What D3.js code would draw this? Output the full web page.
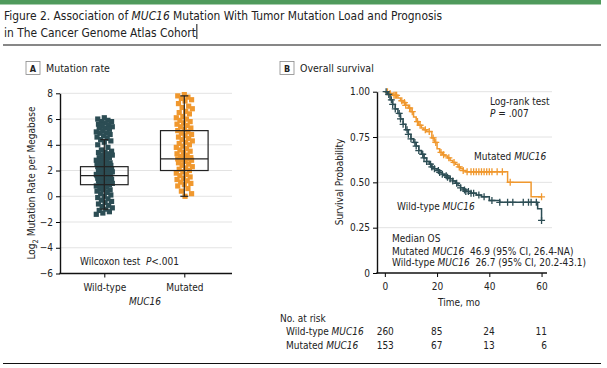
<!DOCTYPE html>
<html><head><meta charset="utf-8">
<script src="https://cdn.jsdelivr.net/npm/d3@7"></script>
<style>
body{margin:0;background:#fff;}
svg text{font-family:"DejaVu Sans Condensed","Liberation Sans Narrow","Roboto Condensed",Lato,sans-serif;fill:#222;white-space:pre;}
</style></head><body>
<svg id="c" width="607" height="368"></svg>
<script>
// ---------- data ----------
const groups = ["Wild-type", "Mutated"];
const wtValues = [6.1,6.0,5.9,5.8,5.8,5.7,5.6,5.5,5.5,5.4,5.3,5.3,5.2,5.1,5.0,4.9,4.9,4.8,4.7,4.6,4.5,4.4,4.3,4.2,4.0,3.8,3.6,3.5,3.4,3.4,3.3,3.2,3.2,3.1,3.0,3.0,2.9,2.8,2.8,2.7,2.6,2.6,2.5,2.5,2.4,2.4,2.3,2.3,2.2,2.2,2.1,2.1,2.0,2.0,2.0,1.9,1.9,1.8,1.8,1.8,1.7,1.7,1.7,1.6,1.6,1.6,1.5,1.5,1.5,1.4,1.4,1.3,1.3,1.3,1.2,1.2,1.1,1.1,1.0,1.0,0.9,0.9,0.8,0.8,0.7,0.6,0.5,0.5,0.4,0.3,0.2,0.1,0.0,-0.1,-0.2,-0.3,-0.4,-0.5,-0.6,-0.7,-0.8,-0.9,-1.0,-1.1,-1.2,-1.3,-1.4];
const mutValues = [7.9,7.8,7.7,7.6,7.5,7.4,7.2,7.0,6.9,6.8,6.6,6.5,6.4,6.2,6.1,6.0,5.9,5.8,5.7,5.6,5.5,5.4,5.3,5.2,5.1,5.0,4.9,4.8,4.7,4.6,4.5,4.4,4.3,4.2,4.1,4.0,3.9,3.8,3.7,3.6,3.5,3.4,3.3,3.2,3.1,3.0,3.0,2.9,2.9,2.8,2.8,2.7,2.6,2.5,2.4,2.3,2.2,2.1,2.0,1.9,1.8,1.7,1.6,1.5,1.4,1.3,1.2,1.1,1.0,0.9,0.8,0.6,0.4,0.2,0.0];
// [min, q1, median, q3, max]
const wtBox = [-1.0, 0.9, 1.6, 2.3, 4.4];
const mutBox = [0.0, 2.0, 2.9, 5.1, 7.8];
const yTicksA = [-6,-4,-2,0,2,4,6,8];

// Kaplan-Meier steps: [time, survival]
const kmWild = [[0,1.0],[1,0.985],[2,0.955],[3,0.93],[4,0.905],[5,0.88],[6,0.85],[7,0.82],[8,0.79],[9,0.765],[10,0.74],[11,0.72],[12,0.70],[13,0.675],[14,0.655],[15,0.635],[16,0.615],[17,0.60],[18,0.585],[19,0.575],[20,0.565],[21,0.555],[22,0.545],[23,0.537],[24,0.528],[25,0.52],[26,0.508],[27,0.495],[28,0.482],[29,0.47],[30,0.458],[31,0.45],[33,0.44],[35,0.43],[37,0.42],[40,0.40],[44,0.39],[58.5,0.355],[60,0.29]];
const kmMut = [[0,1.0],[2,0.99],[3,0.98],[5,0.965],[6,0.95],[7,0.94],[8,0.925],[9,0.91],[10,0.89],[11,0.86],[12,0.835],[13,0.815],[14,0.80],[15,0.79],[16,0.78],[18,0.745],[19,0.72],[20,0.685],[21,0.665],[22,0.652],[23,0.645],[24,0.635],[25,0.62],[26,0.61],[27,0.60],[28,0.585],[29,0.575],[30,0.565],[31,0.558],[47,0.50],[56,0.42],[60,0.42]];
const wildCensor = [0.5,1.5,2.5,3,4,5.5,6,7,8.5,9,10,11.5,12,13,14.5,15,16,17.5,18,19,20.5,21,22,23.5,24,25,26,27.5,29,30.5,31,32,33,34,36,38,41,44,47,49,53,55,56,58,60];
const mutCensor = [1,2,3.5,4,4.5,6.5,7.5,8,9.5,10.5,12.5,13.5,15.5,17,18.5,19.5,21.5,22.5,24.5,26.5,28.5,30,31.5,33,34,35,36,37,38,39,40,41,43,45,48,60];
const yTicksB = [0,0.25,0.5,0.75,1.0];
const xTicksB = [0,20,40,60];
const riskWild = [260,85,24,11];
const riskMut = [153,67,13,6];

const DARK = "#2c4d54", ORANGE = "#f0982e", GRID = "#e3e3e3";
const FS = 10;
const svg = d3.select("#c");

// ---------- header ----------
svg.append("rect").attr("x",0).attr("y",0).attr("width",601).attr("height",4.5).attr("fill","#4f9a5c");
const t1 = svg.append("text").attr("x",4).attr("y",20).attr("font-size",11.9);
t1.append("tspan").text("Figure 2. Association of ");
t1.append("tspan").attr("font-style","italic").text("MUC16");
t1.append("tspan").text(" Mutation With Tumor Mutation Load and Prognosis");
const t2 = svg.append("text").attr("x",4).attr("y",36.5).attr("font-size",11.9).text("in The Cancer Genome Atlas Cohort");
const cx2 = 4 + t2.node().getComputedTextLength() + 1;
svg.append("line").attr("x1",cx2).attr("x2",cx2).attr("y1",24).attr("y2",39).attr("stroke","#111").attr("stroke-width",1);
svg.append("line").attr("x1",3).attr("x2",601).attr("y1",45).attr("y2",45).attr("stroke","#111").attr("stroke-width",1.2);
svg.append("line").attr("x1",3).attr("x2",601).attr("y1",363.5).attr("y2",363.5).attr("stroke","#111").attr("stroke-width",1.2);

function panelLabel(x, letter, title){
  svg.append("rect").attr("x",x).attr("y",61.5).attr("width",14).attr("height",13).attr("fill","none").attr("stroke","#888").attr("stroke-width",0.8);
  svg.append("text").attr("x",x+7).attr("y",71.5).attr("text-anchor","middle").attr("font-size",9).attr("font-weight","bold").text(letter);
  svg.append("text").attr("x",x+20).attr("y",72).attr("font-size",10.5).text(title);
}
panelLabel(26,"A","Mutation rate");
panelLabel(280,"B","Overall survival");

// ---------- Panel A ----------
const yA = d3.scaleLinear().domain([-6,8]).range([273.5,93.3]);
const xA = d3.scalePoint().domain(groups).range([104.3,184.3]);
const gA = svg.append("g");
gA.selectAll("line.grid").data(yTicksA.filter(d=>d>-6)).join("line")
  .attr("x1",60).attr("x2",232).attr("y1",d=>yA(d)).attr("y2",d=>yA(d)).attr("stroke",GRID).attr("stroke-width",1);

function jitter(i, half){ const h = ((i*37 + 11) % 23) / 22; return (h - 0.5) * 2 * half; }
const ptsA = [];
wtValues.forEach((v,i)=>ptsA.push({g:"Wild-type",v,i}));
mutValues.forEach((v,i)=>ptsA.push({g:"Mutated",v,i}));
gA.selectAll("rect.pt").data(ptsA).join("rect")
  .attr("x",d=>xA(d.g)+jitter(d.i,8)-2.6).attr("y",d=>yA(d.v)-2.6)
  .attr("width",5.2).attr("height",5.2)
  .attr("fill",d=>d.g==="Wild-type"?DARK:ORANGE);

const boxes = [{g:"Wild-type",s:wtBox},{g:"Mutated",s:mutBox}];
boxes.forEach(b=>{
  const cx = xA(b.g), s = b.s;
  gA.append("line").attr("x1",cx).attr("x2",cx).attr("y1",yA(s[0])).attr("y2",yA(s[4])).attr("stroke","#222").attr("stroke-width",1.2);
  [s[0],s[4]].forEach(v=>gA.append("line").attr("x1",cx-4).attr("x2",cx+4).attr("y1",yA(v)).attr("y2",yA(v)).attr("stroke","#222").attr("stroke-width",1.2));
  gA.append("rect").attr("x",cx-23.8).attr("width",47.6).attr("y",yA(s[3])).attr("height",yA(s[1])-yA(s[3]))
    .attr("fill","none").attr("stroke","#222").attr("stroke-width",1.2);
  gA.append("line").attr("x1",cx-23.8).attr("x2",cx+23.8).attr("y1",yA(s[2])).attr("y2",yA(s[2])).attr("stroke","#222").attr("stroke-width",1.2);
});

const axA = gA.append("g").attr("transform","translate(60,0)")
  .call(d3.axisLeft(yA).tickValues(yTicksA).tickSize(4).tickSizeOuter(0));
axA.select(".domain").attr("stroke","#111").attr("stroke-width",1.4);
axA.selectAll("text").attr("font-size",FS).attr("fill","#333");
const axAx = gA.append("g").attr("transform","translate(0,273.5)")
  .call(d3.axisBottom(xA).tickSize(4).tickSizeOuter(0));
axAx.select(".domain").remove();
gA.append("line").attr("x1",59.3).attr("x2",232).attr("y1",273.5).attr("y2",273.5).attr("stroke","#111").attr("stroke-width",1.4);
axAx.selectAll("text").attr("font-size",FS).attr("fill","#333").attr("dy","1em");
gA.append("text").attr("x",145).attr("y",305).attr("text-anchor","middle").attr("font-size",FS).attr("font-style","italic").text("MUC16");
const ylA = gA.append("text").attr("transform","translate(35,183) rotate(-90)").attr("text-anchor","middle").attr("font-size",FS);
ylA.append("tspan").text("Log");
ylA.append("tspan").attr("font-size",7.5).attr("dy",3).text("2");
ylA.append("tspan").attr("dy",-3).text(" Mutation Rate per Megabase");
const wil = gA.append("text").attr("x",80).attr("y",264.5).attr("font-size",FS);
wil.append("tspan").text("Wilcoxon test  ");
wil.append("tspan").attr("font-style","italic").text("P");
wil.append("tspan").text("<.001");

// ---------- Panel B ----------
const xB = d3.scaleLinear().domain([-3,64]).range([377,552]);
const yB = d3.scaleLinear().domain([0,1]).range([273,91.7]);
const gB = svg.append("g");
gB.selectAll("line.grid").data(yTicksB.filter(d=>d>0)).join("line")
  .attr("x1",377).attr("x2",552).attr("y1",d=>yB(d)).attr("y2",d=>yB(d)).attr("stroke",GRID).attr("stroke-width",1);

const stepLine = d3.line().x(d=>xB(d[0])).y(d=>yB(d[1])).curve(d3.curveStepAfter);
function survAt(km, t){ let s = km[0][1]; for(const p of km){ if(p[0] <= t) s = p[1]; } return s; }
function drawKM(km, cens, color){
  gB.append("path").attr("d",stepLine(km)).attr("fill","none").attr("stroke",color).attr("stroke-width",1.5);
  gB.selectAll(null).data(cens).join("path")
    .attr("d",t=>{const x=xB(t), y=yB(survAt(km,t)); return `M${x-3.5},${y}H${x+3.5}M${x},${y-3.5}V${y+3.5}`;})
    .attr("stroke",color).attr("stroke-width",1.3).attr("fill","none");
}
drawKM(kmMut, mutCensor, ORANGE);
drawKM(kmWild, wildCensor, DARK);

const axB = gB.append("g").attr("transform","translate(377,0)")
  .call(d3.axisLeft(yB).tickValues(yTicksB).tickSize(4).tickSizeOuter(0).tickFormat(d=>d===0?"0":d3.format(".2f")(d)));
axB.select(".domain").attr("stroke","#111").attr("stroke-width",1.4);
axB.selectAll("text").attr("font-size",FS).attr("fill","#333");
const axBx = gB.append("g").attr("transform","translate(0,273)")
  .call(d3.axisBottom(xB).tickValues(xTicksB).tickSize(4).tickSizeOuter(0));
axBx.select(".domain").remove();
gB.append("line").attr("x1",376.3).attr("x2",547).attr("y1",273).attr("y2",273).attr("stroke","#111").attr("stroke-width",1.4);
axBx.selectAll("text").attr("font-size",FS).attr("fill","#333").attr("dy","1em");
gB.append("text").attr("x",459).attr("y",306).attr("text-anchor","middle").attr("font-size",FS).text("Time, mo");
gB.append("text").attr("transform","translate(343,182) rotate(-90)").attr("text-anchor","middle").attr("font-size",FS).text("Survival Probability");

gB.append("text").attr("x",490).attr("y",105).attr("font-size",FS).text("Log-rank test");
const pv = gB.append("text").attr("x",490).attr("y",117).attr("font-size",FS);
pv.append("tspan").attr("font-style","italic").text("P");
pv.append("tspan").text(" = .007");

function lbl(x,y,pre,post){
  const t = gB.append("text").attr("x",x).attr("y",y).attr("font-size",FS);
  t.append("tspan").text(pre);
  t.append("tspan").attr("font-style","italic").text("MUC16");
  if(post) t.append("tspan").text(post);
  return t;
}
lbl(474,159.5,"Mutated ");
lbl(397,209.5,"Wild-type ");
gB.append("text").attr("x",392).attr("y",242).attr("font-size",FS).text("Median OS");
lbl(392,254.5,"Mutated ","  46.9 (95% CI, 26.4-NA)");
lbl(392,266,"Wild-type ","  26.7 (95% CI, 20.2-43.1)");

// risk table
gB.append("text").attr("x",280).attr("y",322).attr("font-size",FS).text("No. at risk");
lbl(286,334.5,"Wild-type ");
lbl(286,349,"Mutated ");
function riskRow(vals, y){
  gB.selectAll(null).data(vals).join("text")
    .attr("x",(d,i)=>xB(xTicksB[i]) + (i===0?9:5.5)).attr("y",y).attr("text-anchor","end").attr("font-size",FS)
    .text(d=>d);
}
riskRow(riskWild,334.5);
riskRow(riskMut,349);
</script></body></html>
